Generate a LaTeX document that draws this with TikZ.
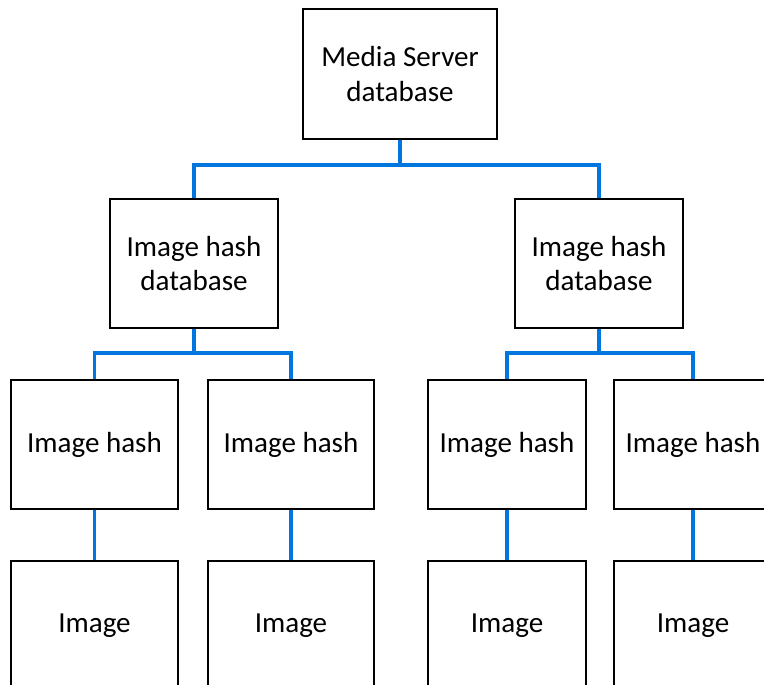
\documentclass[tikz,border=0pt]{standalone}
\usepackage{fontspec}
\setmainfont{Carlito}
\definecolor{linkblue}{RGB}{0,118,222}
\begin{document}
\begin{tikzpicture}[x=0.75pt,y=-0.75pt,
  box/.style={draw=black,line width=1.5pt,fill=white,inner sep=0pt,align=center,
    font=\fontsize{21.8}{26}\selectfont},
  conn/.style={draw=linkblue,line width=2.5pt}]
\useasboundingbox (0,0) rectangle (764,685);
\clip (0,0) rectangle (764,685);
% top
\node[box,minimum width=194*0.75pt,minimum height=130*0.75pt] (top) at (400,74) {Media Server\\database};
% level 2
\node[box,minimum width=168*0.75pt,minimum height=129*0.75pt] (h1) at (194,263.5) {Image hash\\database};
\node[box,minimum width=168*0.75pt,minimum height=129*0.75pt] (h2) at (599,263.5) {Image hash\\database};
% level 3
\node[box,minimum width=167*0.75pt,minimum height=129*0.75pt] (a1) at (94.5,444.5) {Image hash};
\node[box,minimum width=166*0.75pt,minimum height=129*0.75pt] (a2) at (291,444.5) {Image hash};
\node[box,minimum width=158*0.75pt,minimum height=129*0.75pt] (a3) at (507,444.5) {Image hash};
\node[box,minimum width=158*0.75pt,minimum height=129*0.75pt] (a4) at (693,444.5) {Image hash};
% level 4
\node[box,minimum width=167*0.75pt,minimum height=129*0.75pt] (b1) at (94.5,625.5) {Image};
\node[box,minimum width=166*0.75pt,minimum height=129*0.75pt] (b2) at (291,625.5) {Image};
\node[box,minimum width=158*0.75pt,minimum height=129*0.75pt] (b3) at (507,625.5) {Image};
\node[box,minimum width=158*0.75pt,minimum height=129*0.75pt] (b4) at (693,625.5) {Image};
% buses
\coordinate (bus0) at (400,165);
\coordinate (bus1) at (194,353);
\coordinate (bus2) at (599,353);
\draw[conn] (top.south) -- (bus0) -| (h1.north);
\draw[conn] (bus0) -| (h2.north);
\draw[conn] (h1.south) -- (bus1) -| (a1.north);
\draw[conn] (bus1) -| (a2.north);
\draw[conn] (h2.south) -- (bus2) -| (a3.north);
\draw[conn] (bus2) -| (a4.north);
\draw[conn] (a1.south) -- (b1.north);
\draw[conn] (a2.south) -- (b2.north);
\draw[conn] (a3.south) -- (b3.north);
\draw[conn] (a4.south) -- (b4.north);
\end{tikzpicture}
\end{document}
